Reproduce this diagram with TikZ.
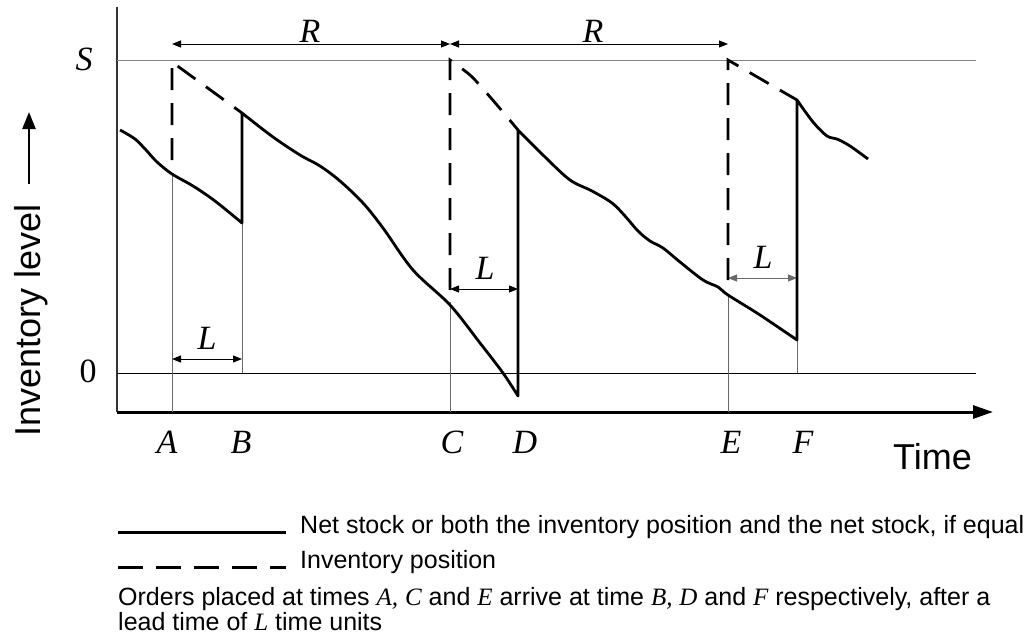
\documentclass[tikz,border=0pt]{standalone}
\usepackage{fontspec}
\setmainfont{Liberation Sans}
\newfontfamily\tms{Liberation Serif}
\usetikzlibrary{arrows.meta}
\definecolor{gline}{RGB}{105,105,105}
\definecolor{sline}{RGB}{130,130,130}
\begin{document}
\begin{tikzpicture}[x=1pt,y=-1pt,
  net/.style={line width=2.8pt, line join=round, line cap=butt},
  invpos/.style={line width=2.8pt, dash pattern=on 22pt off 13pt},
  guide/.style={line width=1pt, draw=gline},
  dimarrow/.style={line width=1pt, {Triangle[length=9pt,width=7pt]}-{Triangle[length=9pt,width=7pt]}},
  letter/.style={font=\fontsize{34}{40}\selectfont\tms\itshape, anchor=base, inner sep=0pt},
  numlabel/.style={font=\fontsize{34}{40}\selectfont\tms, anchor=base, inner sep=0pt},
  bigsans/.style={font=\fontsize{36}{40}\selectfont, inner sep=0pt},
  legtext/.style={font=\fontsize{25}{22}\selectfont, anchor=base west, inner sep=0pt}
]
\useasboundingbox (0,0) rectangle (1033,637);

% key coordinates
\coordinate (O) at (117,412);
\coordinate (Ytop) at (117,7);
\coordinate (Xend) at (993,412);
\coordinate (S0) at (117,60);  \coordinate (S1) at (976,60);
\coordinate (Z0) at (117,373); \coordinate (Z1) at (976,373);

% axes and reference lines
\draw[line width=1.2pt, draw=black!80] (O) -- (Ytop);
\draw[line width=0.9pt, draw=sline] (S0) -- (S1);
\draw[line width=0.9pt] (Z0) -- (Z1);
\draw[line width=3pt, -{Triangle[length=20pt,width=13pt]}] (O) -- (Xend);

% guide verticals
\draw[guide] (172,174) -- (172,412);
\draw[guide] (242,223) -- (242,373);
\draw[guide] (450,302) -- (450,412);
\draw[guide] (728,295) -- (728,412);
\draw[guide] (797,340) -- (797,373);

% R arrows
\coordinate (RA) at (172,44); \coordinate (RC) at (450,44); \coordinate (RE) at (728,44);
\draw[dimarrow] (RA) -- (RC);
\draw[dimarrow] (RC) -- (RE);
\node[letter] (R1) at (310,42) {R};
\node[letter] (R2) at (593,42) {R};

% L arrows
\coordinate (LA) at (172,359); \coordinate (LB) at (242,359);
\coordinate (LC) at (450,289); \coordinate (LD) at (518,289);
\coordinate (LE) at (728,278); \coordinate (LF) at (797,278);
\draw[dimarrow] (LA) -- (LB);
\draw[dimarrow] (LC) -- (LD);
\draw[dimarrow, draw=gline] (LE) -- (LF);
\node[letter] (L1) at (207,349) {L};
\node[letter] (L2) at (485,279) {L};
\node[letter] (L3) at (763,268) {L};

% net stock
\draw[net] plot[smooth, tension=0.55] coordinates {(120,130) (135,139) (146,150) (157,162) (172,174) (193,186) (215,201) (242,223)}
  -- (242,113)
  -- plot[smooth, tension=0.55] coordinates {(242,113) (273,137) (300,155) (320,166) (340,181) (363,203) (383,228) (413,270) (450,305) (480,343) (503,373) (518,396)}
  -- (518,130)
  -- plot[smooth, tension=0.55] coordinates {(518,130) (545,157) (570,180) (592,191) (612,203) (625,216) (638,231) (650,241) (663,248) (680,262) (703,280) (718,287) (728,295) (760,315) (797,340)}
  -- (797,100)
  -- plot[smooth, tension=0.55] coordinates {(797,100) (813,122) (827,136) (837,139) (850,146) (868,159)};

% inventory position (dashed)
\draw[invpos] (172,160) -- (172,62) -- (242,113);
\draw[invpos] (450,290) -- (450,60)
  -- plot[smooth, tension=0.55] coordinates {(450,60) (470,75) (483,89) (497,105) (518,130)};
\draw[invpos] (728,280) -- (728,60) -- (797,100);

% axis labels
\node[letter] (lS) at (84,70) {S};
\node[numlabel] (l0) at (88,382) {0};
\node[letter] (lA) at (167,453) {A};
\node[letter] (lB) at (241,453) {B};
\node[letter] (lC) at (452,453) {C};
\node[letter] (lD) at (525,453) {D};
\node[letter] (lE) at (731,453) {E};
\node[letter] (lF) at (803,453) {F};
\node[bigsans, anchor=base west] (time) at (893,469) {Time};
\node[bigsans, rotate=90, anchor=base west] (ylab) at (40,437) {Inventory level};
\coordinate (yarr0) at (29,184);
\coordinate (yarr1) at (29,112);
\draw[line width=2.4pt, -{Triangle[length=17pt,width=13pt]}] (yarr0) -- (yarr1);

% legend
\node[legtext] (leg1) at (300,533) {Net stock or both the inventory position and the net stock, if equal};
\node[legtext] (leg2) at (300,568) {Inventory position};
\node[legtext, align=left] (leg3) at (118,630) {Orders placed at times {\tms\itshape A,} {\tms\itshape C} and {\tms\itshape E} arrive at time {\tms\itshape B,} {\tms\itshape D} and {\tms\itshape F} respectively, after a\\lead time of {\tms\itshape L} time units};
\draw[line width=3pt] (118,532) -- (286,532);
\draw[line width=3pt, dash pattern=on 25pt off 13pt] (118,567) -- (286,567);
\end{tikzpicture}
\end{document}
